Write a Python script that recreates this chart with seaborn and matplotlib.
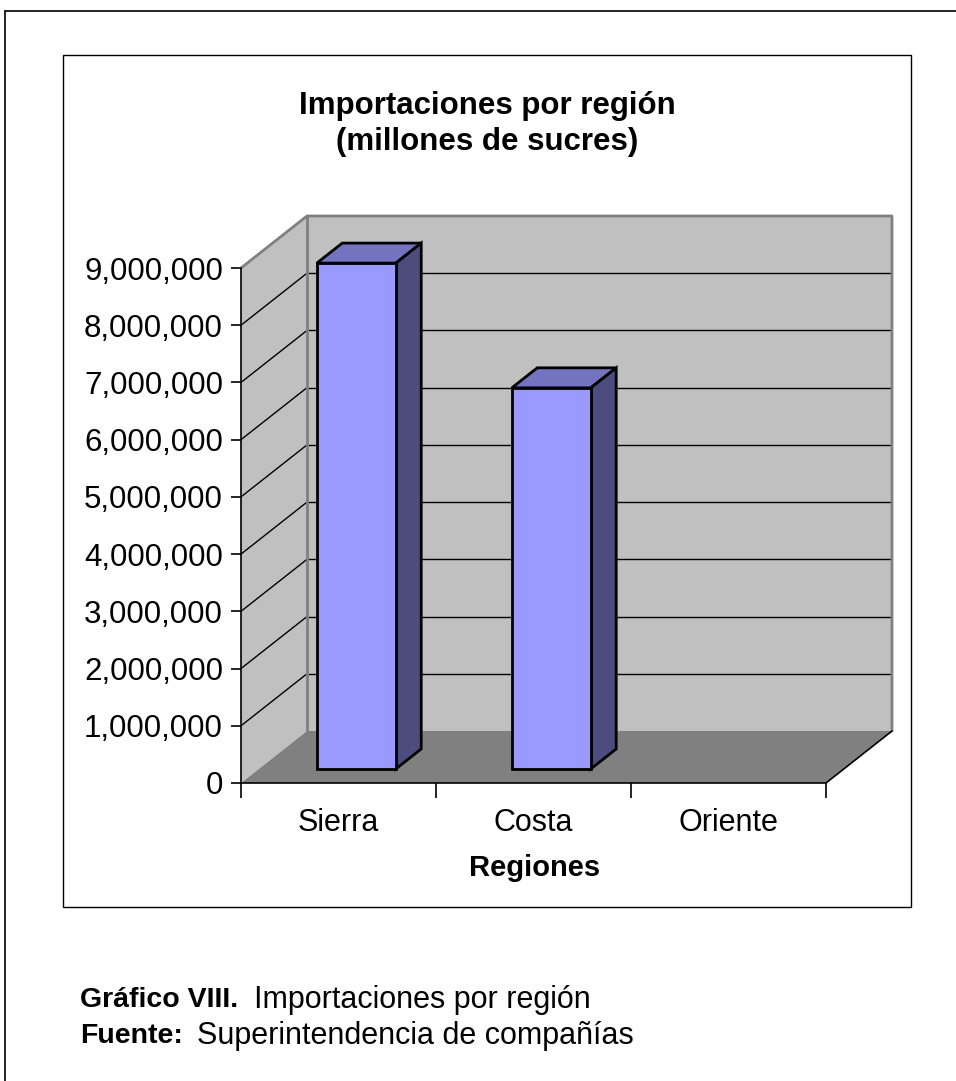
import numpy as np
import pandas as pd
import matplotlib
matplotlib.use("Agg")
import matplotlib.pyplot as plt
from matplotlib.patches import Polygon, Rectangle
import seaborn as sns

# ---- data ----
regions = ["Sierra", "Costa", "Oriente"]
imports = [8840000, 6660000, 0]
yticks = [0, 1000000, 2000000, 3000000, 4000000, 5000000, 6000000, 7000000, 8000000, 9000000]
title = "Importaciones por región\n(millones de sucres)"
xlabel = "Regiones"

sns.set_theme(style="white")
plt.rcParams["font.family"] = ["Liberation Sans", "DejaVu Sans"]
plt.rcParams["text.color"] = "black"
plt.rcParams["xtick.color"] = "black"
plt.rcParams["ytick.color"] = "black"
plt.rcParams["axes.labelcolor"] = "black"

W, H = 956, 1081
fig = plt.figure(figsize=(W / 100, H / 100), dpi=100)
fig.patch.set_facecolor("white")

def fx(px):
    return px / W

def fy(py):
    return 1 - py / H

# outer frame & inner chart box
fig.add_artist(plt.Line2D([fx(5), fx(5)], [fy(11), fy(1081)], color="black", lw=1.2))
fig.add_artist(plt.Line2D([fx(5), fx(956)], [fy(11), fy(11)], color="black", lw=1.2))
fig.add_artist(Rectangle((fx(63), fy(907)), fx(911) - fx(63), fy(55) - fy(907),
                         transform=fig.transFigure, fill=False, ec="black", lw=1.0))

# axes = front plane
ax = fig.add_axes([fx(241), fy(783), fx(826) - fx(241), fy(268) - fy(783)])
ax.set_facecolor("none")

df = pd.DataFrame({"region": regions, "value": imports})
sns.barplot(data=df, x="region", y="value", color="#9999FF", width=0.405,
            edgecolor="black", linewidth=2.0, saturation=1, ax=ax, zorder=5)

ax.set_xlim(-0.5, 2.5)
ymax = yticks[-1]
ax.set_ylim(0, ymax)

DX = 66 / 195.0          # depth offset in category units
DY = 52 / 57.22 * 1e6    # depth offset in value units
x0, x1 = -0.5, 2.5

wall_c = "#C0C0C0"
floor_c = "#808080"
edge_c = "#808080"

# side wall
ax.add_patch(Polygon([(x0, 0), (x0, ymax), (x0 + DX, ymax + DY), (x0 + DX, DY)],
                     closed=True, fc=wall_c, ec="none", clip_on=False, zorder=0))
# back wall
ax.add_patch(Polygon([(x0 + DX, DY), (x0 + DX, ymax + DY), (x1 + DX, ymax + DY), (x1 + DX, DY)],
                     closed=True, fc=wall_c, ec="none", clip_on=False, zorder=0))
# gridlines
for v in yticks[1:-1]:
    ax.plot([x0, x0 + DX], [v, v + DY], color="black", lw=1.0, clip_on=False, zorder=1)
    ax.plot([x0 + DX, x1 + DX], [v + DY, v + DY], color="black", lw=1.0, clip_on=False, zorder=1)
# wall borders
ax.plot([x0, x0 + DX, x1 + DX, x1 + DX], [ymax, ymax + DY, ymax + DY, DY],
        color=edge_c, lw=2, clip_on=False, zorder=1)
ax.plot([x0 + DX, x0 + DX], [DY, ymax + DY], color=edge_c, lw=2, clip_on=False, zorder=1)
# floor
ax.add_patch(Polygon([(x0, 0), (x1, 0), (x1 + DX, DY), (x0 + DX, DY)],
                     closed=True, fc=floor_c, ec="none", clip_on=False, zorder=2))
ax.plot([x1, x1 + DX], [0, DY], color="black", lw=1.2, clip_on=False, zorder=2)

# 3D bars from seaborn patches
d0, d1 = 0.27, 0.655
for p in list(ax.patches):
    if not isinstance(p, Rectangle) or p.get_zorder() != 5:
        continue
    bx, bw, bh = p.get_x(), p.get_width(), p.get_height()
    p.set_x(bx + d0 * DX)
    p.set_y(d0 * DY)
    p.set_clip_on(False)
    if bh <= 0:
        p.set_visible(False)
        continue
    fxl, fxr = bx + d0 * DX, bx + bw + d0 * DX
    fyb, fyt = d0 * DY, bh + d0 * DY
    ddx, ddy = (d1 - d0) * DX, (d1 - d0) * DY
    top = Polygon([(fxl, fyt), (fxr, fyt), (fxr + ddx, fyt + ddy), (fxl + ddx, fyt + ddy)],
                  closed=True, fc="#7373BF", ec="black", lw=2, clip_on=False, zorder=4)
    side = Polygon([(fxr, fyb), (fxr, fyt), (fxr + ddx, fyt + ddy), (fxr + ddx, fyb + ddy)],
                   closed=True, fc="#4C4C7F", ec="black", lw=2, clip_on=False, zorder=4)
    ax.add_patch(top)
    ax.add_patch(side)

# axes styling
for s in ["top", "right"]:
    ax.spines[s].set_visible(False)
for s in ["left", "bottom"]:
    ax.spines[s].set_color("black")
    ax.spines[s].set_linewidth(1.2)
    ax.spines[s].set_zorder(6)
ax.set_yticks(yticks)
ax.set_yticklabels([f"{v:,}" for v in yticks], fontsize=22.5, color="black")
ax.tick_params(axis="y", direction="out", length=7, width=1.2, color="black", pad=6, left=True)
ax.set_xticks(range(len(regions)))
ax.set_xticklabels(regions, fontsize=22, color="black")
ax.set_xticks([-0.5, 0.5, 1.5, 2.5], minor=True)
ax.tick_params(axis="x", which="major", length=0, pad=18)
ax.tick_params(axis="x", which="minor", direction="out", length=11, width=1.2, color="black", bottom=True)
ax.set_xlabel("")
ax.set_ylabel("")

# titles and captions
fig.text(fx(487), fy(124), title, ha="center", va="center", fontsize=22.5,
         fontweight="bold", linespacing=1.22, color="black")
fig.text(fx(535), fy(868), xlabel, ha="center", va="center", fontsize=21,
         fontweight="bold", color="black")
fig.text(fx(80), fy(1000), "Gráfico VIII.", ha="left", va="center", fontsize=20.5,
         fontweight="bold", color="black")
fig.text(fx(254), fy(1000), "Importaciones por región", ha="left", va="center",
         fontsize=22, color="black")
fig.text(fx(80), fy(1036), "Fuente:", ha="left", va="center", fontsize=20.5,
         fontweight="bold", color="black")
fig.text(fx(197), fy(1036), "Superintendencia de compañías", ha="left", va="center",
         fontsize=22, color="black")

fig.savefig("out.png", dpi=100, facecolor="white")
